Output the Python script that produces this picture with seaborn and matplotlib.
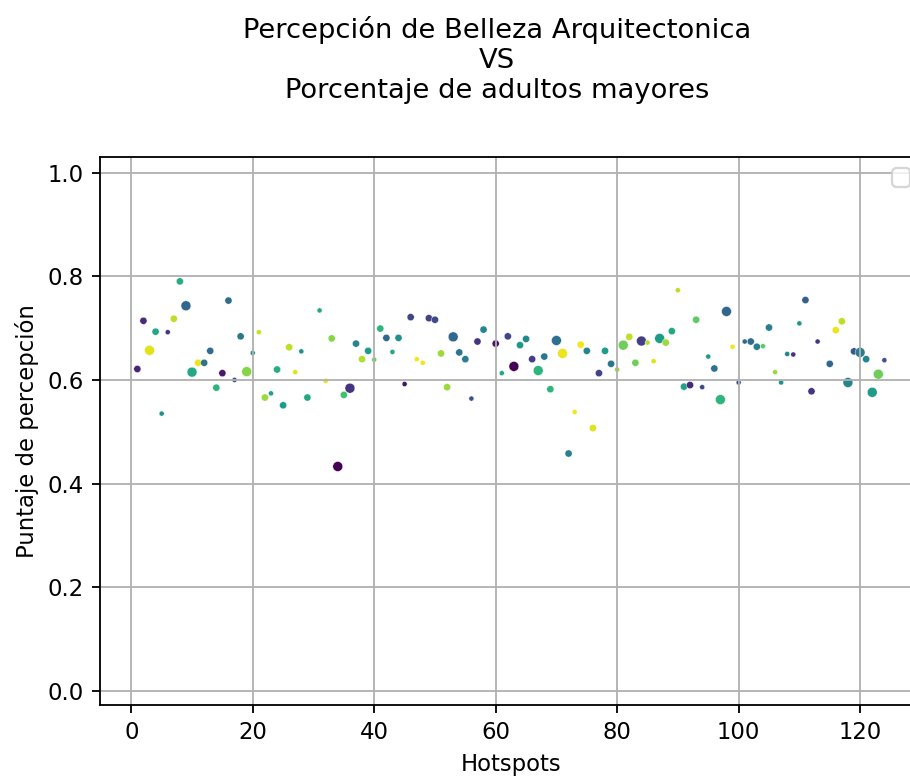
import numpy as np
import pandas as pd
import matplotlib
matplotlib.use("Agg")
import matplotlib.pyplot as plt
import seaborn as sns

# Hotspot index, perception score, share of older adults (colour), marker class (size)
hotspots = [1, 2, 3, 4, 5, 6, 7, 8, 9, 10, 11, 12, 13, 14, 15, 16, 17, 18, 19, 20,
            21, 22, 23, 24, 25, 26, 27, 28, 29, 31, 32, 33, 34, 35, 36, 37, 38, 39, 40,
            41, 42, 43, 44, 45, 46, 47, 48, 49, 50, 51, 52, 53, 54, 55, 56, 57, 58, 60,
            61, 62, 63, 64, 65, 66, 67, 68, 69, 70, 71, 72, 73, 74, 75, 76, 77, 78, 79, 80,
            81, 82, 83, 84, 85, 86, 87, 88, 89, 90, 91, 92, 93, 94, 95, 96, 97, 98, 99, 100,
            101, 102, 103, 104, 105, 106, 107, 108, 109, 110, 111, 112, 113, 115, 116, 117,
            118, 119, 120, 121, 122, 123, 124]

puntaje = [0.621, 0.714, 0.657, 0.693, 0.535, 0.692, 0.718, 0.790, 0.743, 0.615,
           0.633, 0.633, 0.656, 0.585, 0.613, 0.753, 0.600, 0.684, 0.616, 0.652,
           0.692, 0.566, 0.574, 0.620, 0.551, 0.663, 0.615, 0.655, 0.566, 0.734,
           0.598, 0.680, 0.433, 0.571, 0.584, 0.670, 0.640, 0.656, 0.639,
           0.699, 0.681, 0.654, 0.681, 0.592, 0.721, 0.640, 0.633, 0.719, 0.716,
           0.651, 0.586, 0.683, 0.653, 0.640, 0.564, 0.674, 0.697, 0.670,
           0.613, 0.684, 0.626, 0.667, 0.679, 0.640, 0.618, 0.645, 0.582, 0.676,
           0.651, 0.458, 0.538, 0.668, 0.656, 0.507, 0.613, 0.656, 0.631, 0.620,
           0.667, 0.683, 0.633, 0.675, 0.672, 0.636, 0.680, 0.672, 0.694, 0.773,
           0.587, 0.590, 0.716, 0.586, 0.645, 0.622, 0.562, 0.732, 0.664, 0.595,
           0.674, 0.674, 0.664, 0.665, 0.701, 0.615, 0.595, 0.650, 0.649, 0.709,
           0.754, 0.578, 0.674, 0.631, 0.696, 0.713,
           0.595, 0.655, 0.653, 0.640, 0.576, 0.611, 0.638]

adultos = [0.10, 0.12, 0.95, 0.60, 0.50, 0.15, 0.90, 0.62, 0.33, 0.60,
           0.97, 0.38, 0.35, 0.65, 0.07, 0.35, 0.25, 0.40, 0.82, 0.50,
           0.92, 0.85, 0.58, 0.62, 0.55, 0.90, 0.95, 0.50, 0.60, 0.60,
           0.97, 0.82, 0.00, 0.70, 0.15, 0.45, 0.88, 0.55, 0.78,
           0.65, 0.33, 0.60, 0.50, 0.05, 0.20, 0.98, 0.98, 0.20, 0.22,
           0.85, 0.85, 0.33, 0.38, 0.42, 0.25, 0.15, 0.45, 0.05,
           0.60, 0.20, 0.00, 0.53, 0.47, 0.18, 0.65, 0.40, 0.65, 0.37,
           0.97, 0.43, 0.98, 0.98, 0.45, 0.95, 0.20, 0.55, 0.40, 0.85,
           0.78, 0.90, 0.78, 0.18, 0.88, 0.95, 0.55, 0.85, 0.60, 0.90,
           0.58, 0.12, 0.75, 0.22, 0.55, 0.37, 0.65, 0.33, 0.98, 0.25,
           0.33, 0.35, 0.42, 0.75, 0.42, 0.85, 0.50, 0.45, 0.15, 0.52,
           0.30, 0.15, 0.15, 0.33, 0.97, 0.90,
           0.45, 0.27, 0.42, 0.45, 0.55, 0.78, 0.25]

tamano = [2, 2, 3, 2, 1, 1, 2, 2, 3, 3,
          2, 2, 2, 2, 2, 2, 1, 2, 3, 1,
          1, 2, 1, 2, 2, 2, 1, 1, 2, 1,
          1, 2, 3, 2, 3, 2, 2, 2, 1,
          2, 2, 1, 2, 1, 2, 1, 1, 2, 2,
          2, 2, 3, 2, 2, 1, 2, 2, 2,
          1, 2, 3, 2, 2, 2, 3, 2, 2, 3,
          3, 2, 1, 2, 2, 2, 2, 2, 2, 1,
          3, 2, 2, 3, 1, 1, 3, 2, 2, 1,
          2, 2, 2, 1, 1, 2, 3, 3, 1, 1,
          1, 2, 2, 1, 2, 1, 1, 1, 1, 1,
          2, 2, 1, 2, 2, 2,
          3, 2, 3, 2, 3, 3, 1]

df = pd.DataFrame({"Hotspots": hotspots, "Puntaje": puntaje,
                   "Adultos": adultos, "Tamano": tamano})

dpi = 164
fig = plt.figure(figsize=(910 / dpi, 777 / dpi), dpi=dpi)
ax = fig.add_axes([0.1099, 0.0927, 0.903, 0.7053])

sns.scatterplot(data=df, x="Hotspots", y="Puntaje", hue="Adultos", size="Tamano",
                sizes={1: 5, 2: 10, 3: 19}, palette="viridis", hue_norm=(0, 1),
                legend=False, ax=ax)

ax.set_ylim(-0.027, 1.03)
ax.set_xlabel("Hotspots")
ax.set_ylabel("Puntaje de percepción")
ax.grid(True)
ax.legend(loc="upper right")

fig.suptitle("Percepción de Belleza Arquitectonica\nVS\nPorcentaje de adultos mayores",
             x=0.546, y=0.98)

fig.savefig("out.png", dpi=dpi)
